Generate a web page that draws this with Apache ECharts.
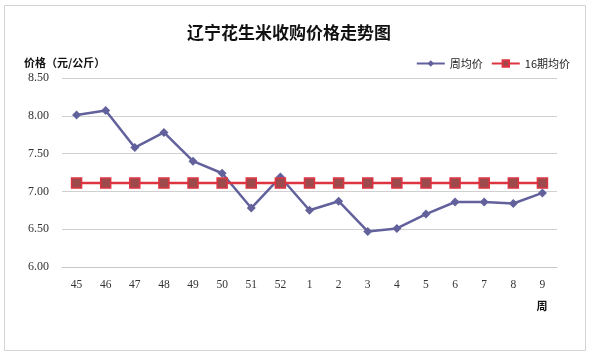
<!DOCTYPE html>
<html><head><meta charset="utf-8">
<script src="https://cdn.jsdelivr.net/npm/echarts@6/dist/echarts.min.js"></script>
<style>html,body{margin:0;padding:0;background:#fff}#c{width:591px;height:356px}</style>
</head><body><div id="c"></div>
<script>
const categories = ['45','46','47','48','49','50','51','52','1','2','3','4','5','6','7','8','9'];
const weeklyAvg = [8.01,8.07,7.58,7.78,7.40,7.24,6.78,7.19,6.75,6.87,6.47,6.51,6.70,6.86,6.86,6.84,6.98];
const avg16 = [7.11,7.11,7.11,7.11,7.11,7.11,7.11,7.11,7.11,7.11,7.11,7.11,7.11,7.11,7.11,7.11,7.11];
const yMin = 6, yMax = 8.5, yStep = 0.5;

const chart = echarts.init(document.getElementById('c'));
const labelFont = "'Liberation Serif','DejaVu Serif',serif";
chart.setOption({
  backgroundColor: '#fff',
  animation: false,
  graphic: [
    {type:'rect', shape:{x:4.5,y:5.5,width:581,height:345}, style:{fill:'none', stroke:'#d4d4d4', lineWidth:1}},
    {type:'text', x:542, y:306, style:{text:'周', fontFamily:"'Noto Sans CJK SC'", fontWeight:'bold', fontSize:11, fill:'#111', textAlign:'center', textVerticalAlign:'middle'}}
  ],
  title: {text:'辽宁花生米收购价格走势图', left:182, top:19,
    textStyle:{fontFamily:"'Noto Sans CJK SC'", fontSize:17, fontWeight:'bold', color:'#111'}},
  legend: {right:16, top:53, itemWidth:28, itemHeight:8, itemGap:8,
    textStyle:{fontFamily:"'Noto Sans CJK SC'", fontSize:11, color:'#222'},
    data:['周均价','16期均价']},
  grid: {left:62, right:34, top:78, bottom:89},
  xAxis: {type:'category', data:categories, boundaryGap:true,
    axisLine:{lineStyle:{color:'#c8c8c8'}}, axisTick:{show:false},
    axisLabel:{fontFamily:labelFont, fontSize:11.5, color:'#333', margin:12}},
  yAxis: {type:'value', min:yMin, max:yMax, interval:yStep,
    name:'价格（元/公斤）', nameLocation:'end', nameGap:10,
    nameTextStyle:{fontFamily:"'Noto Sans CJK SC'", fontWeight:'bold', fontSize:11, color:'#111', align:'left', padding:[0,0,0,-38]},
    axisLine:{show:false}, axisTick:{show:false},
    splitLine:{lineStyle:{color:'#d0d0d0'}},
    axisLabel:{fontFamily:labelFont, fontSize:12, color:'#333', margin:13, formatter:v=>v.toFixed(2)}},
  series: [
    {name:'周均价', type:'line', data:weeklyAvg, symbol:'diamond', symbolSize:9,
     lineStyle:{color:'#62619c', width:2.5}, itemStyle:{color:'#62619c'}},
    {name:'16期均价', type:'line', data:avg16, symbol:'rect', symbolSize:10,
     lineStyle:{color:'#dd3442', width:2.5}, itemStyle:{color:'#9c4a4c', borderColor:'#dd3442', borderWidth:1.5}}
  ]
});
</script></body></html>
